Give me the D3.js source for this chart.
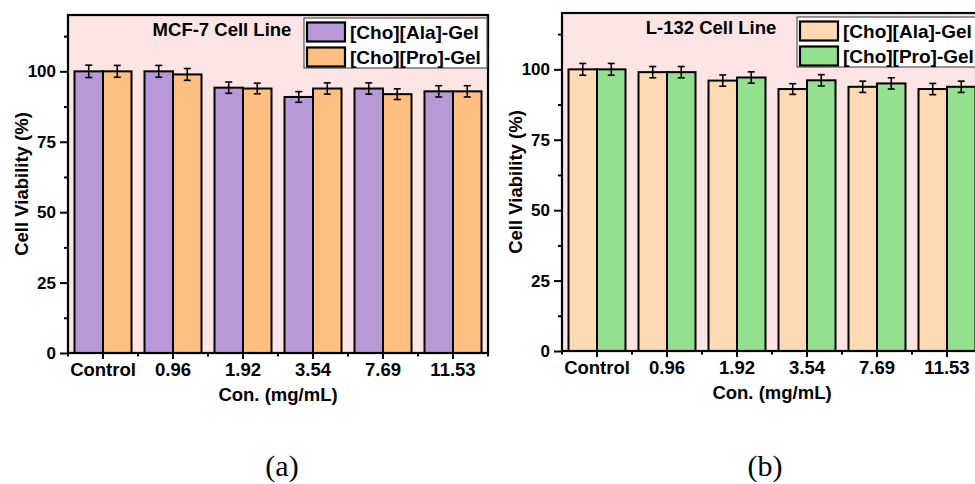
<!DOCTYPE html>
<html>
<head>
<meta charset="utf-8">
<script src="https://cdn.jsdelivr.net/npm/d3@7"></script>
<style>
  body { margin: 0; background: #fff; }
  svg { display: block; }
  text { font-family: "Liberation Sans", Arial, sans-serif; font-weight: bold; fill: #000; }
</style>
</head>
<body>
<svg id="chart" width="975" height="484"></svg>
<script>
const categories = ["Control", "0.96", "1.92", "3.54", "7.69", "11.53"];
const seriesNames = ["[Cho][Ala]-Gel", "[Cho][Pro]-Gel"];

// MCF-7 panel
const mcfAla = [100, 100, 94.2, 90.9, 93.9, 92.9];
const mcfPro = [100, 98.9, 93.9, 93.9, 91.9, 92.9];
const mcfAlaErr = [2.2, 2.1, 2.0, 1.9, 2.0, 2.0];
const mcfProErr = [2.1, 2.1, 1.9, 2.0, 1.9, 2.0];

// L-132 panel
const l132Ala = [100, 99, 96, 93, 93.8, 93];
const l132Pro = [100, 99, 97.1, 96.1, 95, 93.8];
const l132AlaErr = [2.1, 2.0, 2.0, 1.9, 2.0, 2.0];
const l132ProErr = [2.1, 2.0, 2.0, 2.0, 2.0, 2.0];

const yMajor = [0, 25, 50, 75, 100];
const yMinor = [12.5, 37.5, 62.5, 87.5, 112.5];

const svg = d3.select("#chart");

function panel(opts) {
  const { left, right, top, bottom, title, colors, a, b, aErr, bErr, label, labelX, legendX, legendY, legendW, titleX } = opts;
  const g = svg.append("g");

  const x = d3.scaleBand().domain(categories).range([left, right]).padding(0);
  const xs = d3.scaleBand().domain([0, 1]).range([0, x.bandwidth()]).paddingInner(0).paddingOuter(0.228);
  const y = d3.scaleLinear().domain([0, 120]).range([bottom, top]);

  g.append("rect")
    .attr("x", left).attr("y", top)
    .attr("width", right - left).attr("height", bottom - top)
    .attr("fill", "#fde4e4");

  const rows = categories.map((c, i) => ({ c, vals: [a[i], b[i]], errs: [aErr[i], bErr[i]] }));

  const grp = g.append("g").selectAll("g").data(rows).join("g")
    .attr("transform", d => `translate(${x(d.c)},0)`);

  grp.selectAll("rect")
    .data(d => d.vals.map((v, k) => ({ v, k, e: d.errs[k] })))
    .join("rect")
    .attr("x", d => xs(d.k))
    .attr("width", xs.bandwidth())
    .attr("y", d => y(d.v))
    .attr("height", d => y(0) - y(d.v))
    .attr("fill", d => colors[d.k])
    .attr("stroke", "#000")
    .attr("stroke-width", 2);

  const eb = grp.selectAll("g.err")
    .data(d => d.vals.map((v, k) => ({ v, k, e: d.errs[k] })))
    .join("g").attr("class", "err")
    .attr("stroke", "#000").attr("stroke-width", 1.6);
  const cx = d => xs(d.k) + xs.bandwidth() / 2;
  eb.append("line").attr("x1", cx).attr("x2", cx)
    .attr("y1", d => y(d.v + d.e)).attr("y2", d => y(d.v - d.e));
  eb.append("line").attr("x1", d => cx(d) - 3.5).attr("x2", d => cx(d) + 3.5)
    .attr("y1", d => y(d.v + d.e)).attr("y2", d => y(d.v + d.e));
  eb.append("line").attr("x1", d => cx(d) - 3.5).attr("x2", d => cx(d) + 3.5)
    .attr("y1", d => y(d.v - d.e)).attr("y2", d => y(d.v - d.e));

  // y axis
  const ya = g.append("g").attr("transform", `translate(${left},0)`)
    .call(d3.axisLeft(y).tickValues(yMajor).tickSize(8).tickPadding(4));
  ya.select(".domain").remove();
  ya.selectAll("line").attr("stroke", "#000").attr("stroke-width", 2);
  ya.selectAll("text").style("font-size", "17px");
  const ym = g.append("g").attr("transform", `translate(${left},0)`)
    .call(d3.axisLeft(y).tickValues(yMinor).tickSize(4).tickFormat(""));
  ym.select(".domain").remove();
  ym.selectAll("line").attr("stroke", "#000").attr("stroke-width", 2);

  // x axis
  const xa = g.append("g").attr("transform", `translate(0,${bottom})`)
    .call(d3.axisBottom(x).tickSize(6).tickPadding(4));
  xa.select(".domain").remove();
  xa.selectAll("line").attr("stroke", "#000").attr("stroke-width", 2);
  xa.selectAll("text").style("font-size", "18.5px");
  const bounds = d3.range(categories.length + 1).map(i => left + i * x.step());
  g.append("g").selectAll("line").data(bounds).join("line")
    .attr("x1", d => d).attr("x2", d => d)
    .attr("y1", bottom).attr("y2", bottom + 3.5)
    .attr("stroke", "#000").attr("stroke-width", 2);

  // frame
  g.append("rect")
    .attr("x", left).attr("y", top)
    .attr("width", right - left).attr("height", bottom - top)
    .attr("fill", "none").attr("stroke", "#000").attr("stroke-width", 2.2);

  // titles
  g.append("text")
    .attr("transform", `translate(${left - 40},${(top + bottom) / 2}) rotate(-90)`)
    .attr("text-anchor", "middle")
    .style("font-size", "18.5px")
    .text("Cell Viability (%)");
  g.append("text")
    .attr("x", (left + right) / 2).attr("y", bottom + 48)
    .attr("text-anchor", "middle")
    .style("font-size", "18.5px")
    .text("Con. (mg/mL)");
  g.append("text")
    .attr("x", titleX).attr("y", top + 21)
    .attr("text-anchor", "middle")
    .style("font-size", "18.5px")
    .text(title);

  // legend
  const lg = g.append("g").attr("transform", `translate(${legendX},${legendY})`);
  lg.append("rect").attr("width", legendW).attr("height", 50)
    .attr("fill", "#fff").attr("stroke", "#555").attr("stroke-width", 1.2);
  const li = lg.selectAll("g").data(seriesNames).join("g")
    .attr("transform", (d, i) => `translate(3,${4.5 + i * 25})`);
  li.append("rect").attr("width", 38).attr("height", 19)
    .attr("fill", (d, i) => colors[i])
    .attr("stroke", "#000").attr("stroke-width", 2.2);
  li.append("text").attr("x", 43).attr("y", 16)
    .style("font-size", "19px")
    .text(d => d);

  svg.append("text")
    .attr("x", labelX).attr("y", 476)
    .attr("text-anchor", "middle")
    .style("font-family", "'Liberation Serif', 'Times New Roman', serif")
    .style("font-weight", "normal")
    .style("font-size", "30px")
    .text(label);
}

panel({
  left: 68, right: 488, top: 15, bottom: 353,
  title: "MCF-7 Cell Line", titleX: 222,
  colors: ["#b899d8", "#ffbf80"],
  a: mcfAla, b: mcfPro, aErr: mcfAlaErr, bErr: mcfProErr,
  label: "(a)", labelX: 282,
  legendX: 304, legendY: 18, legendW: 183
});

panel({
  left: 562, right: 982, top: 13, bottom: 351,
  title: "L-132 Cell Line", titleX: 711,
  colors: ["#ffdab3", "#93e08f"],
  a: l132Ala, b: l132Pro, aErr: l132AlaErr, bErr: l132ProErr,
  label: "(b)", labelX: 765,
  legendX: 797, legendY: 17, legendW: 185
});
</script>
</body>
</html>
